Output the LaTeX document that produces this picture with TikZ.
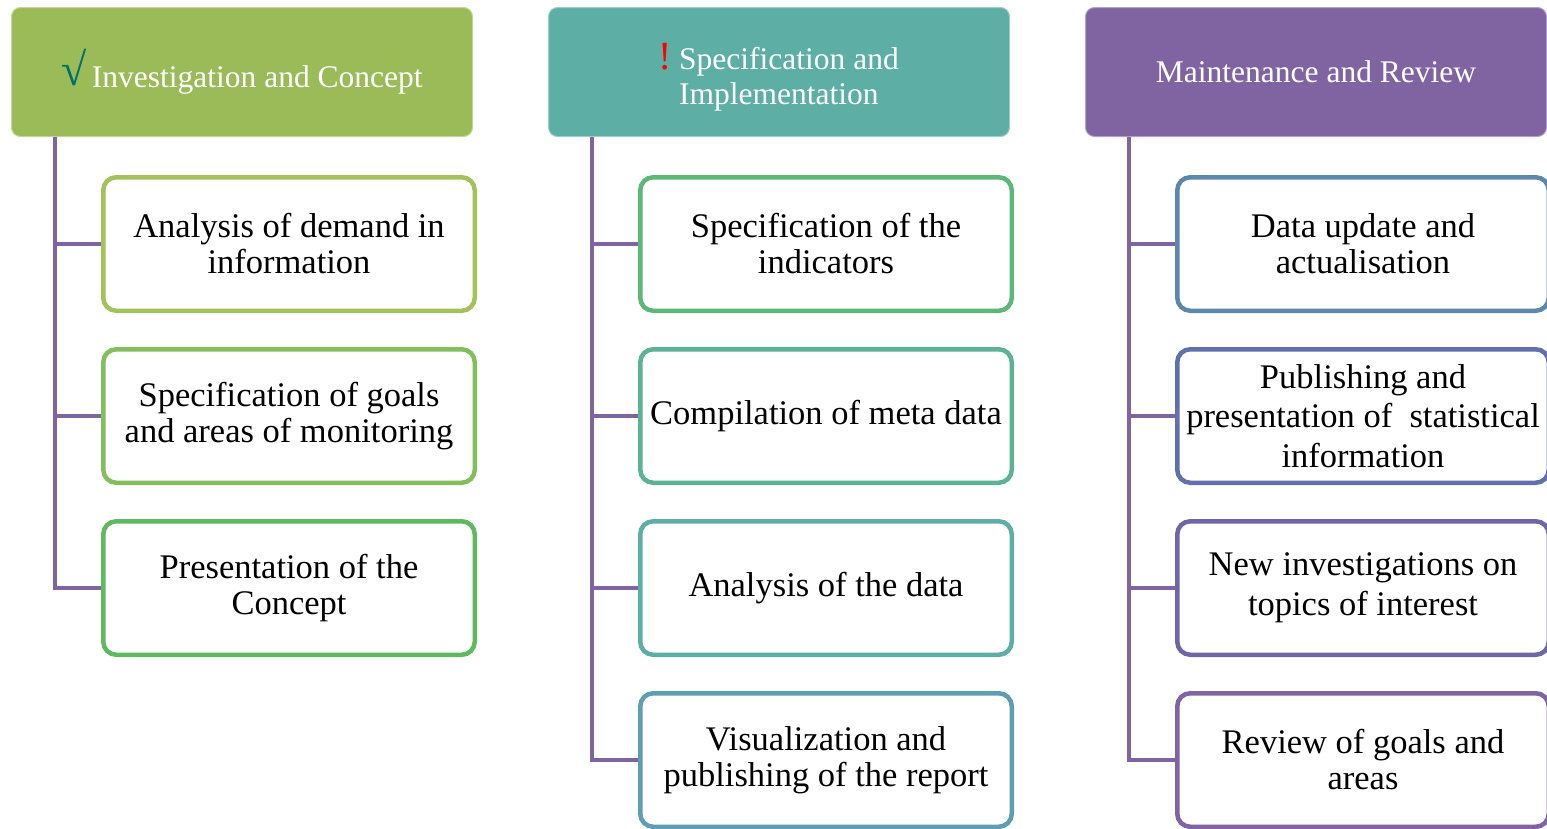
\documentclass[tikz,border=0pt]{standalone}
\usepackage{fontspec}
\setmainfont{Liberation Serif}
\usepackage{tikz}
\usetikzlibrary{positioning}

\definecolor{hgreen}{HTML}{9BBB59}
\definecolor{hteal}{HTML}{5DAFA6}
\definecolor{hpurple}{HTML}{8064A2}
\definecolor{tick}{HTML}{00706A}
\definecolor{ca}{HTML}{A3C25A}
\definecolor{cb}{HTML}{82BE5B}
\definecolor{cc}{HTML}{5FB95E}
\definecolor{cd}{HTML}{5CB878}
\definecolor{ce}{HTML}{5CB292}
\definecolor{cf}{HTML}{5DAFA6}
\definecolor{cg}{HTML}{5E9EB1}
\definecolor{ch}{HTML}{5E87AE}
\definecolor{ci}{HTML}{6170AC}
\definecolor{cj}{HTML}{6F66A8}
\definecolor{ck}{HTML}{8064A2}

\begin{document}
\begin{tikzpicture}[x=1pt,y=-1pt,node distance=34pt,
        head/.style={fill=#1,draw=#1!60!white,line width=1pt,rounded corners=9pt,
            minimum width=461pt,minimum height=129pt,text=white,
            font=\fontsize{31.5}{35}\selectfont,inner sep=0pt},
        box/.style={draw=#1,line width=4.5pt,fill=white,rounded corners=13pt,
            minimum width=371.5pt,minimum height=133.5pt,align=center,
            font=\fontsize{34.5}{36}\selectfont,inner sep=0pt},
        link/.style={draw=hpurple,line width=4.5pt}]

  \useasboundingbox (0,0) rectangle (1547,828);
  \clip (0,0) rectangle (1547,828);

  % headers
  \node[head=hgreen] (h1) at (242,72)
      {\raisebox{2pt}{\textcolor{tick}{\fontsize{46}{46}\selectfont\symbol{"221A}}}\,Investigation and Concept};
  \node[head=hteal,label={[text=white,align=left,yshift=-5pt,xshift=10pt,
          font=\fontsize{31.5}{35}\selectfont]center:{\llap{\textcolor{red}{\fontsize{40}{40}\selectfont!}\ }Specification and\\Implementation}}]
      (h2) at (779,72) {};
  \node[head=hpurple] (h3) at (1316,72) {Maintenance and Review};

  % first column
  \node[box=ca] (a1) at (289,244) {Analysis of demand in\\information};
  \node[box=cb] (a2) [below=of a1] {Specification of goals\\and areas of monitoring};
  \node[box=cc] (a3) [below=of a2] {Presentation of the\\Concept};

  % second column
  \node[box=cd] (b1) at (826,244) {Specification of the\\indicators};
  \node[box=ce] (b2) [below=of b1] {Compilation of meta data};
  \node[box=cf] (b3) [below=of b2] {Analysis of the data};
  \node[box=cg] (b4) [below=of b3] {Visualization and\\publishing of the report};

  % third column
  \node[box=ch] (c1) at (1363,244) {Data update and\\actualisation};
  \node[box=ci,font=\fontsize{34.5}{39.5}\selectfont] (c2) [below=of c1]
      {Publishing and\\presentation of ~statistical\\information};
  \node[box=cj,font=\fontsize{34.5}{40}\selectfont] (c3) [below=of c2] {New investigations on\\topics of interest};
  \node[box=ck] (c4) [below=of c3] {Review of goals and\\areas};

  \coordinate (t1) at (55,137);
  \coordinate (t2) at (592,137);
  \coordinate (t3) at (1129,137);

  \path[link] (t1) |- (a1.west)
              (t1) |- (a2.west)
              (t1) |- (a3.west)
              (t2) |- (b1.west)
              (t2) |- (b2.west)
              (t2) |- (b3.west)
              (t2) |- (b4.west)
              (t3) |- (c1.west)
              (t3) |- (c2.west)
              (t3) |- (c3.west)
              (t3) |- (c4.west);

\end{tikzpicture}
\end{document}
